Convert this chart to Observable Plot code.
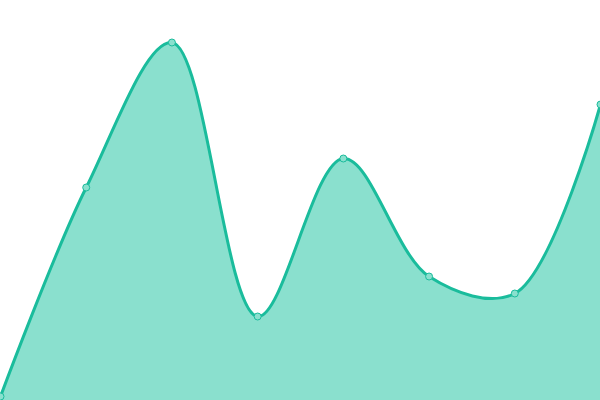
<!DOCTYPE html>
<html>
<head>
<meta charset="utf-8">
<script src="https://cdn.jsdelivr.net/npm/d3@7"></script>
<script src="https://cdn.jsdelivr.net/npm/@observablehq/plot@0.6"></script>
<style>
  html, body { margin: 0; padding: 0; background: #fff; overflow: hidden; }
  #chart svg { display: block; }
</style>
</head>
<body>
<div id="chart"></div>
<script>
const categories = ["A", "B", "C", "D", "E", "F", "G", "H"];
const values = [2, 106.5, 179, 42, 121, 62, 53.5, 148];

const data = categories.map((c, i) => ({ cat: c, idx: i, value: values[i] }));

const chart = Plot.plot({
  width: 600,
  height: 400,
  margin: 0,
  inset: 0,
  style: { maxWidth: "none", overflow: "hidden" },
  x: { type: "linear", domain: [0, categories.length - 1], range: [0, 600], inset: 0, axis: null },
  y: { domain: [0, 200], range: [400, 0], inset: 0, axis: null },
  marks: [
    Plot.areaY(data, { x: "idx", y: "value", curve: "catmull-rom", fill: "#8ae0ce" }),
    Plot.lineY(data, { x: "idx", y: "value", curve: "catmull-rom", stroke: "#1abc9c", strokeWidth: 3 }),
    Plot.dot(data, { x: "idx", y: "value", r: 3.5, fill: "#8ae0ce", stroke: "#1abc9c", strokeWidth: 1 })
  ]
});
document.getElementById("chart").appendChild(chart);
</script>
</body>
</html>
